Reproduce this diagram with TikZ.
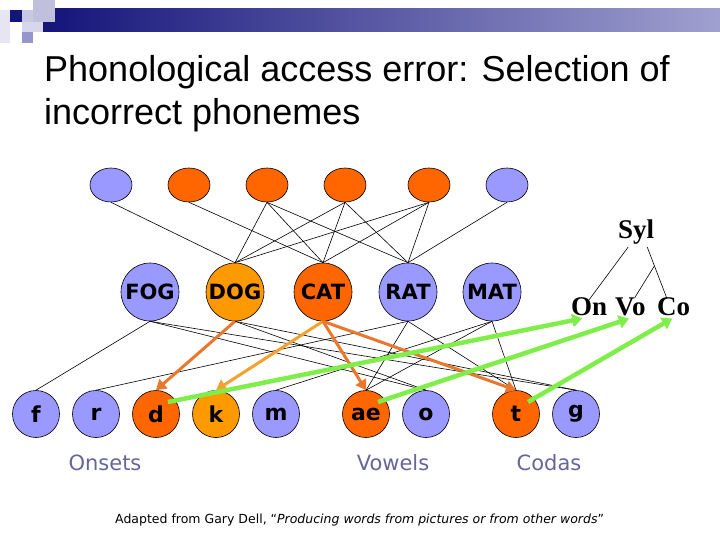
\documentclass[tikz,border=0pt]{standalone}
\usepackage{fontspec}
\setmainfont{DejaVu Sans}
\newfontfamily\titlefont{Liberation Sans}
\newfontfamily\timesfont{Liberation Serif}
\usetikzlibrary{shapes.geometric,arrows.meta,calc}
\definecolor{lav}{HTML}{9999FF}
\definecolor{org}{HTML}{FF6600}
\definecolor{gold}{HTML}{FF9900}
\definecolor{navy}{HTML}{14147A}
\definecolor{barend}{HTML}{A0A0D0}
\definecolor{labgray}{HTML}{666699}
\definecolor{arrdark}{HTML}{E8782E}
\definecolor{arrlight}{HTML}{F5A030}
\definecolor{grn}{HTML}{80EE4A}
\definecolor{sqa}{HTML}{E6E6F2}
\definecolor{sqb}{HTML}{C8C8E4}
\definecolor{sqc}{HTML}{C0C0DC}
\definecolor{sqd}{HTML}{D6D6EC}
\definecolor{sqe}{HTML}{9696CC}
\begin{document}
\begin{tikzpicture}[x=1pt,y=-1pt,
  sem/.style={ellipse,draw=black,line width=0.6pt,minimum width=42pt,minimum height=34pt,inner sep=0pt},
  word/.style={circle,draw=black,line width=0.6pt,minimum size=58pt,inner sep=0pt,font=\fontsize{21}{25}\selectfont\bfseries},
  phon/.style={circle,draw=black,line width=0.6pt,minimum size=47pt,inner sep=0pt,font=\fontsize{22}{26}\selectfont\bfseries},
  link/.style={draw=black,line width=0.6pt},
  oarrow/.style={line width=3pt,-{Triangle[length=10pt,width=12pt]}},
  garrow/.style={draw=grn,line width=4.5pt,-{Triangle[length=10pt,width=13pt]}},
  grp/.style={text=labgray,font=\fontsize{21}{25}\selectfont,anchor=base,inner sep=0pt},
  syl/.style={font=\timesfont\bfseries\fontsize{27}{32}\selectfont,inner sep=0pt,anchor=base west},
  ttl/.style={font=\titlefont\fontsize{36}{43}\selectfont,inner sep=0pt,anchor=base west}
]
\useasboundingbox (0,0) rectangle (720,540);
% decoration
\fill[white] (0,0) rectangle (720,540);
\shade[left color=navy,right color=barend] (43,9) rectangle (720,32);
\fill[sqa] (0,10) rectangle (10,43);
\fill[sqb] (22,10) rectangle (33,22);
\fill[sqc] (33,0) rectangle (55,22);
\fill[sqd] (22,22) rectangle (43,32);
\fill[sqe] (22,32) rectangle (33,43);
\fill[navy] (10,10) rectangle (22,22);
% title
\node[ttl] (title1) at (44,82) {Phonological access error: Selection of};
\node[ttl] (title2) at (44,125) {incorrect phonemes};
% semantic features
\node[sem,fill=lav] (s1) at (111,185) {};
\node[sem,fill=org] (s2) at (189,185) {};
\node[sem,fill=org] (s3) at (267,185) {};
\node[sem,fill=org] (s4) at (345,185) {};
\node[sem,fill=org] (s5) at (429,185) {};
\node[sem,fill=lav] (s6) at (507,185) {};
% words
\node[word,fill=lav] (FOG) at (150,292) {FOG};
\node[word,fill=gold] (DOG) at (235,292) {DOG};
\node[word,fill=org] (CAT) at (323,292) {CAT};
\node[word,fill=lav] (RAT) at (408,292) {RAT};
\node[word,fill=lav] (MAT) at (492,292) {MAT};
% phonemes
\node[phon,fill=lav] (f) at (36,414) {f};
\node[phon,fill=lav] (r) at (96,414) {r};
\node[phon,fill=org] (d) at (156,414) {d};
\node[phon,fill=gold] (k) at (216,414) {k};
\node[phon,fill=lav] (m) at (276,414) {m};
\node[phon,fill=org] (ae) at (366,414) {ae};
\node[phon,fill=lav] (o) at (426,414) {o};
\node[phon,fill=org] (t) at (516,414) {t};
\node[phon,fill=lav] (g) at (576,414) {g};
% group labels
\node[grp] (onsets) at (105,470) {Onsets};
\node[grp] (vowels) at (393,470) {Vowels};
\node[grp] (codas) at (549,470) {Codas};
% syllable frame
\node[syl] (Syl) at (618,239) {Syl};
\node[syl] (On) at (571,315) {On};
\node[syl] (Vo) at (615,315) {Vo};
\node[syl] (Co) at (657,315) {Co};
\coordinate (sylL) at ($(Syl.south)+(-8,2)$);
\coordinate (sylR) at ($(Syl.south)+(11,2)$);
\coordinate (coTop) at ($(Co.north)+(-7,1)$);
\draw[link] (sylL) -- ($(On.north)+(-1,4)$);
\draw[link] (sylR) -- (coTop);
\draw[link] ($(sylR)!0.37!(coTop)$) -- ($(Vo.north)+(4,1)$);
% links
\foreach \a/\b in {s1/DOG,s2/CAT,s3/DOG,s3/CAT,s3/RAT,s4/DOG,s4/CAT,s4/RAT,s5/DOG,s5/CAT,s5/RAT,s6/RAT}
  \draw[link] (\a.south) -- (\b.north);
\foreach \a/\b in {FOG/f,FOG/o,FOG/g,DOG/o,DOG/g,RAT/r,RAT/ae,RAT/t,MAT/m,MAT/ae,MAT/t}
  \draw[link] (\a.south) -- (\b.north);
% orange arrows
\draw[oarrow,draw=arrdark,fill=arrdark] (DOG.south) -- (d.north);
\draw[oarrow,draw=arrlight,fill=arrlight] (CAT.south) -- (k.north);
\draw[oarrow,draw=arrdark,fill=arrdark] (CAT.south) -- (ae.north);
\draw[oarrow,draw=arrdark,fill=arrdark] (CAT.south) -- (t.north);
% green arrows
\draw[garrow,fill=grn] ($(d.center)+(12,-12)$) -- ($(On.south)+(-7,3)$);
\draw[garrow,fill=grn] ($(ae.center)+(12,-12)$) -- ($(Vo.south)+(-1.5,3)$);
\draw[garrow,fill=grn] ($(t.center)+(12,-12)$) -- ($(Co.south)+(-1.5,3)$);
% citation
\node[anchor=base west,inner sep=0pt,font=\fontsize{12.5}{15}\selectfont] (cite) at (115,523)
  {Adapted from Gary Dell, “{\itshape Producing words from pictures or from other words}"};
\end{tikzpicture}
\end{document}
